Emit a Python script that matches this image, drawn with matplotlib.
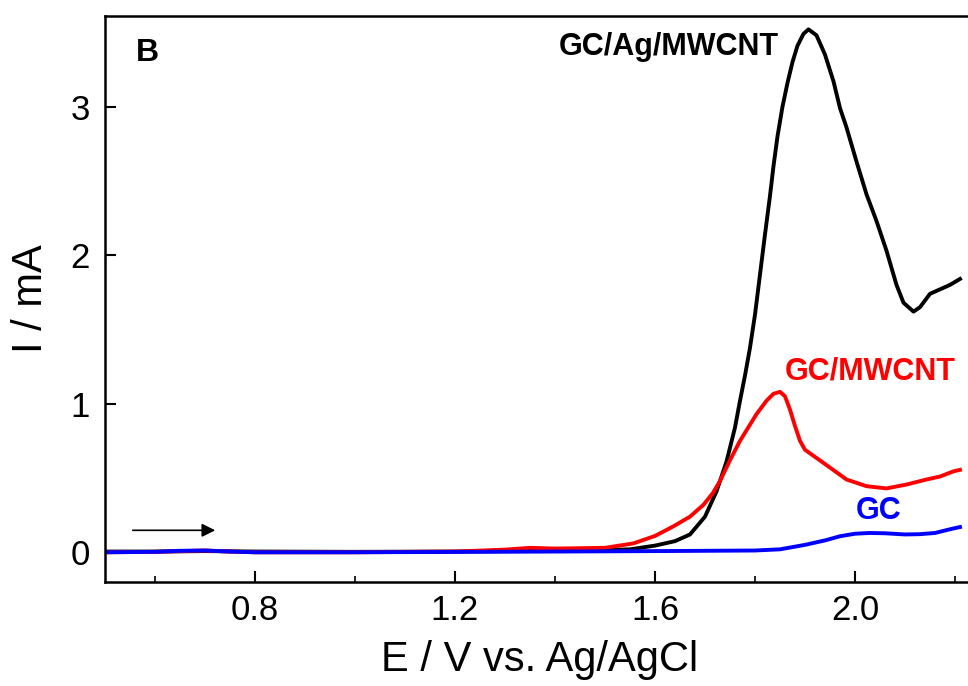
import numpy as np
import matplotlib
matplotlib.use('Agg')
from matplotlib import pyplot as plt
from matplotlib.ticker import MultipleLocator

plt.rcParams['font.family'] = ['Liberation Sans', 'DejaVu Sans']

# GC/Ag/MWCNT (black)
e_agcnt = [0.5, 0.6, 0.7, 0.8, 1.0, 1.2, 1.3, 1.4, 1.5, 1.55, 1.6, 1.64, 1.67, 1.70, 1.723, 1.743, 1.76,
           1.77, 1.78, 1.79, 1.80, 1.81, 1.82, 1.83, 1.837, 1.845, 1.855, 1.865, 1.875, 1.885, 1.897,
           1.907, 1.923, 1.94, 1.957, 1.97, 1.983, 2.003, 2.023, 2.043, 2.063, 2.083, 2.097, 2.117,
           2.13, 2.15, 2.17, 2.19, 2.21]
i_agcnt = [0.005, 0.005, 0.008, 0.005, 0.003, 0.005, 0.008, 0.01, 0.015, 0.02, 0.045, 0.075, 0.12, 0.24,
           0.41, 0.61, 0.84, 1.02, 1.19, 1.377, 1.60, 1.87, 2.14, 2.40, 2.60, 2.80, 3.00, 3.16, 3.30,
           3.41, 3.49, 3.52, 3.48, 3.35, 3.17, 2.99, 2.86, 2.63, 2.41, 2.23, 2.03, 1.80, 1.68, 1.62,
           1.65, 1.74, 1.77, 1.80, 1.84]

# GC/MWCNT (red)
e_cnt = [0.5, 0.6, 0.7, 0.75, 0.8, 1.0, 1.2, 1.3, 1.35, 1.4, 1.5, 1.557, 1.6, 1.637, 1.67, 1.697, 1.716,
         1.73, 1.75, 1.77, 1.803, 1.823, 1.837, 1.85, 1.86, 1.87, 1.88, 1.89, 1.90, 1.923, 1.95, 1.983,
         2.023, 2.063, 2.103, 2.143, 2.17, 2.197, 2.21]
i_cnt = [0.0, 0.003, 0.012, 0.005, 0.0, 0.0, 0.005, 0.018, 0.03, 0.025, 0.03, 0.06, 0.11, 0.175, 0.24,
         0.32, 0.40, 0.48, 0.62, 0.75, 0.93, 1.02, 1.067, 1.08, 1.05, 0.96, 0.85, 0.75, 0.69, 0.635,
         0.57, 0.49, 0.445, 0.43, 0.456, 0.49, 0.51, 0.545, 0.555]

# GC (blue)
e_gc = [0.5, 0.6, 0.65, 0.7, 0.75, 0.8, 1.0, 1.4, 1.6, 1.8, 1.85, 1.9, 1.94, 1.97, 2.0, 2.03, 2.06, 2.1,
        2.13, 2.16, 2.19, 2.21]
i_gc = [0.0, 0.003, 0.01, 0.012, 0.005, 0.0, 0.0, 0.005, 0.008, 0.012, 0.02, 0.05, 0.08, 0.108, 0.125,
        0.13, 0.128, 0.12, 0.122, 0.13, 0.155, 0.17]

fig = plt.figure(figsize=(9.68, 6.86), dpi=100)
ax = fig.add_axes([105/968, 104/686, 870/968, 566/686])

ax.plot(e_agcnt, i_agcnt, color='black', lw=2.8)
ax.plot(e_cnt, i_cnt, color='#ff0000', lw=2.8)
ax.plot(e_gc, i_gc, color='#0000ff', lw=2.8)

ax.set_xlim(0.5, 2.24)
ax.set_ylim(-0.2, 3.61)
ax.xaxis.set_minor_locator(MultipleLocator(0.2))
ax.set_xticks([0.8, 1.2, 1.6, 2.0])
ax.set_xticklabels(['0.8', '1.2', '1.6', '2.0'])
ax.set_yticks([0, 1, 2, 3])

ax.tick_params(axis='both', which='major', direction='in', length=8, width=1.5, labelsize=25)
ax.tick_params(axis='x', which='minor', direction='in', length=4, width=1.2)
ax.tick_params(axis='x', pad=9)
ax.tick_params(axis='y', pad=11)
for s in ax.spines.values():
    s.set_linewidth(1.8)

ax.set_xlabel('E / V vs. Ag/AgCl', fontsize=30, labelpad=9)
ax.set_ylabel('I / mA', fontsize=30, labelpad=14)

ax.text(0.584, 3.36, 'B', fontsize=23, fontweight='bold', ha='center', va='center')
ax.text(1.848, 3.40, 'GC/Ag/MWCNT', fontsize=22, fontweight='bold', ha='right', va='center')
ax.text(2.03, 1.22, 'GC/MWCNT', fontsize=22, fontweight='bold', color='#ff0000', ha='center', va='center')
ax.text(2.048, 0.28, 'GC', fontsize=22, fontweight='bold', color='#0000ff', ha='center', va='center')

# scan direction arrow
ax.annotate('', xy=(0.726, 0.148), xytext=(0.55, 0.148),
            arrowprops=dict(arrowstyle='-|>', color='black', lw=1.2, mutation_scale=20))

fig.savefig('out.png', dpi=100)
